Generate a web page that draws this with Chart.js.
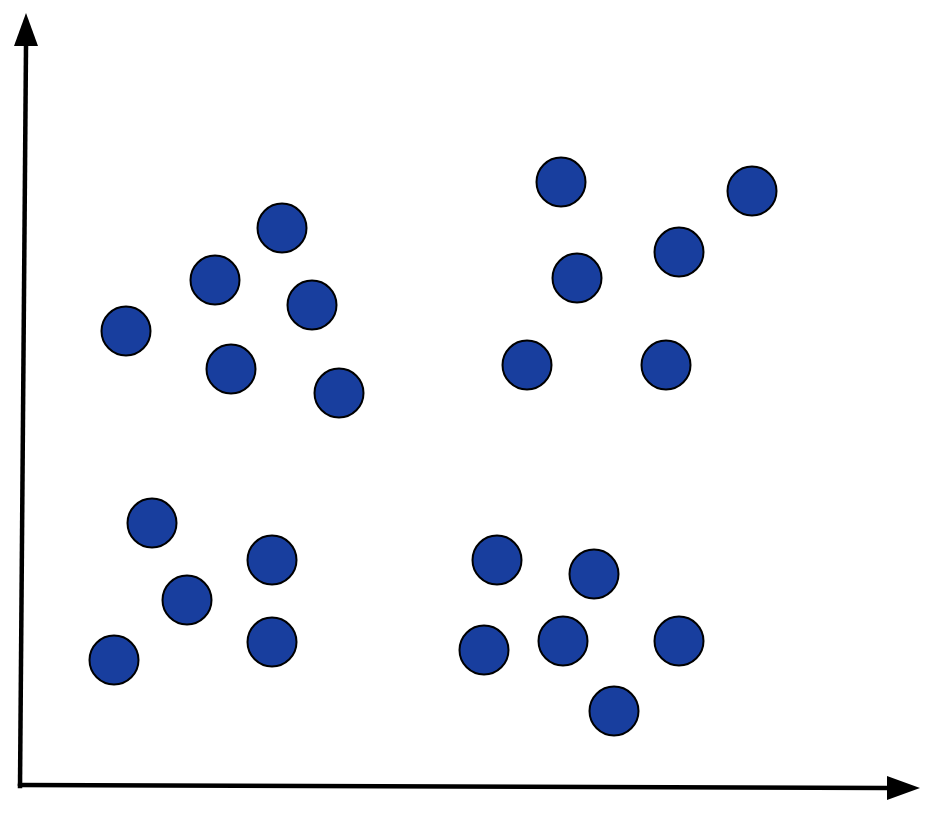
<!DOCTYPE html>
<html>
<head>
<meta charset="utf-8">
<script src="https://cdn.jsdelivr.net/npm/chart.js@4/dist/chart.umd.min.js"></script>
<style>
  html, body { margin: 0; padding: 0; background: #ffffff; }
  #wrap { width: 932px; height: 816px; position: relative; }
</style>
</head>
<body>
<div id="wrap"><canvas id="c"></canvas></div>
<script>
// Point values (x to the right, y upward)
const xValues = [282, 215, 312, 126, 231, 339,
                 561, 752, 679, 577, 527, 666,
                 152, 272, 187, 272, 114,
                 497, 594, 484, 563, 679, 614];
const yValues = [588, 536, 511, 485, 447, 423,
                 634, 625, 564, 538, 451, 451,
                 293, 256, 216, 174, 156,
                 256, 242, 166, 175, 175, 105];

// Axis line end points (value units) and arrow tips
const yAxisStart = [20, 30];
const yAxisEnd = [26, 770];
const yAxisTip = [26, 803];
const xAxisStart = [20, 31];
const xAxisEnd = [887, 28];
const xAxisTip = [920, 28];

const points = xValues.map((x, i) => ({ x: x, y: yValues[i] }));

const arrowAxes = {
  id: 'arrowAxes',
  beforeDatasetsDraw(chart) {
    const ctx = chart.ctx;
    const sx = chart.scales.x, sy = chart.scales.y;
    const P = (p) => [sx.getPixelForValue(p[0]), sy.getPixelForValue(p[1])];
    ctx.save();
    ctx.strokeStyle = '#000000';
    ctx.fillStyle = '#000000';
    ctx.lineWidth = 4.5;
    ctx.lineCap = 'butt';
    [[yAxisStart, yAxisEnd], [xAxisStart, xAxisEnd]].forEach(([a, b]) => {
      const pa = P(a), pb = P(b);
      ctx.beginPath();
      ctx.moveTo(pa[0], pa[1]);
      ctx.lineTo(pb[0], pb[1]);
      ctx.stroke();
    });
    const c1 = P(yAxisStart);
    ctx.fillRect(c1[0] - 2.25, c1[1] - 2.25, 4.5, 4.5);
    const half = 12;
    const yb = P(yAxisEnd), yt = P(yAxisTip);
    ctx.beginPath();
    ctx.moveTo(yt[0], yt[1]);
    ctx.lineTo(yb[0] - half, yb[1]);
    ctx.lineTo(yb[0] + half, yb[1]);
    ctx.closePath();
    ctx.fill();
    const xb = P(xAxisEnd), xt = P(xAxisTip);
    ctx.beginPath();
    ctx.moveTo(xt[0], xt[1]);
    ctx.lineTo(xb[0], xb[1] - half);
    ctx.lineTo(xb[0], xb[1] + half);
    ctx.closePath();
    ctx.fill();
    ctx.restore();
  }
};

new Chart(document.getElementById('c'), {
  type: 'scatter',
  data: {
    datasets: [{
      data: points,
      backgroundColor: '#183e9e',
      borderColor: '#000000',
      borderWidth: 2,
      pointRadius: 24.5,
      pointHoverRadius: 24.5
    }]
  },
  options: {
    responsive: true,
    maintainAspectRatio: false,
    animation: false,
    layout: { padding: 0, autoPadding: false },
    plugins: { legend: { display: false }, tooltip: { enabled: false } },
    scales: {
      x: { type: 'linear', min: 0, max: 932, display: false },
      y: { type: 'linear', min: 0, max: 816, display: false }
    }
  },
  plugins: [arrowAxes]
});
</script>
</body>
</html>
